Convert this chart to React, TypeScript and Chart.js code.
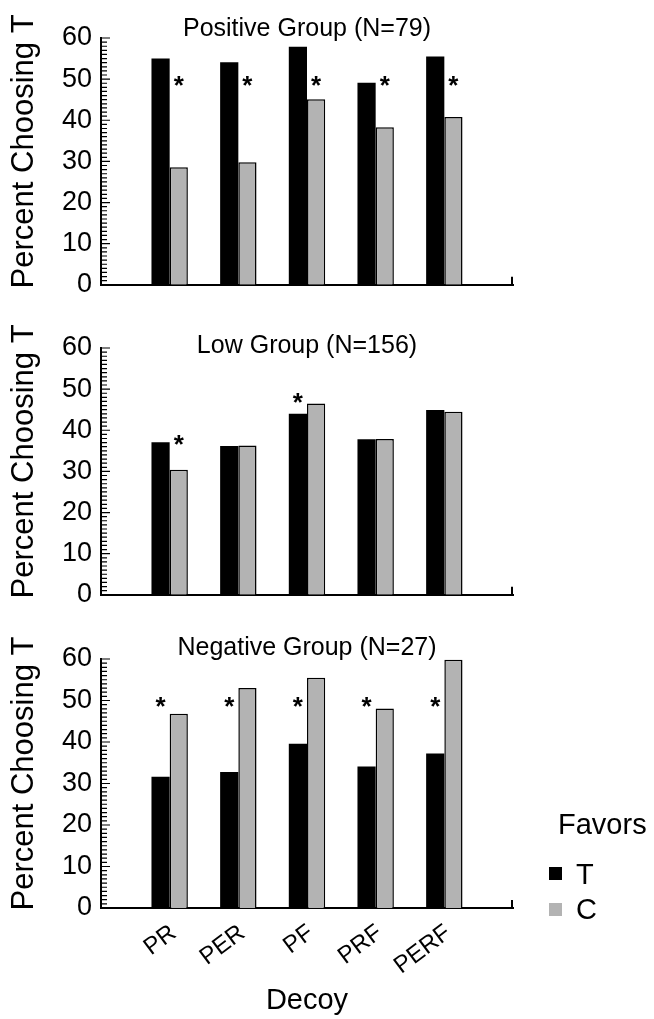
import React, { useEffect, useRef } from 'react';
import { Chart, registerables } from 'chart.js';

Chart.register(...registerables);

const FONT = '"Liberation Sans", Arial, Helvetica, sans-serif';

// ---- data ----
const categories = ['PR', 'PER', 'PF', 'PRF', 'PERF'];
const seriesNames = ['T', 'C'];
const seriesColors = ['#000000', '#b3b3b3'];

const positiveT = [55.0, 54.1, 57.9, 49.1, 55.5];
const positiveC = [28.6, 29.8, 45.1, 38.3, 40.8];
const lowT = [37.1, 36.2, 44.0, 37.8, 44.9];
const lowC = [30.4, 36.3, 46.5, 37.9, 44.5];
const negativeT = [31.6, 32.8, 39.6, 34.1, 37.2];
const negativeC = [46.8, 53.0, 55.5, 48.1, 59.8];

// significance markers: [category index, series index (0=T, 1=C), y value]
const positiveStars = [[0, 1, 50], [1, 1, 50], [2, 1, 50], [3, 1, 50], [4, 1, 50]];
const lowStars = [[0, 1, 38], [2, 0, 48.3]];
const negativeStars = [[0, 0, 50], [1, 0, 50], [2, 0, 50], [3, 0, 50], [4, 0, 50]];

const yTickValues = [0, 10, 20, 30, 40, 50, 60];
const yMinorStep = 1;
const panelTitles = ['Positive Group (N=79)', 'Low Group (N=156)', 'Negative Group (N=27)'];
const yAxisTitle = 'Percent Choosing T';
const xAxisTitle = 'Decoy';
const legendTitle = 'Favors';

type PanelProps = {
  t: number[];
  c: number[];
  stars: number[][];
  title: string;
  top: number;
  height: number;
  padTop: number;
  xHeight: number;
  titleY: number;
  showX: boolean;
  legend: boolean;
};

function makeOverlay(p: PanelProps) {
  return {
    id: 'overlay',
    afterDraw(chart: any) {
      const ctx: CanvasRenderingContext2D = chart.ctx;
      const area = chart.chartArea;
      const ys = chart.scales.y;
      const xs = chart.scales.x;
      ctx.save();
      ctx.setLineDash([]);
      ctx.globalAlpha = 1;
      ctx.strokeStyle = '#000';
      ctx.fillStyle = '#000';
      // minor / major ticks on the inside of the y axis
      const left = area.left;
      const steps = Math.round((ys.max - ys.min) / yMinorStep);
      ctx.lineWidth = 1.2;
      ctx.beginPath();
      for (let k = 0; k <= steps; k++) {
        const v = ys.min + k * yMinorStep;
        const py = ys.getPixelForValue(v);
        const len = k % 10 === 0 ? 9 : 6;
        ctx.moveTo(left - 1, py);
        ctx.lineTo(left + len, py);
      }
      ctx.stroke();
      // right end tick on x axis
      ctx.lineWidth = 2;
      const rx = xs.getPixelForValue(xs.max) - 1;
      ctx.beginPath();
      ctx.moveTo(rx, area.bottom);
      ctx.lineTo(rx, area.bottom - 8);
      ctx.stroke();

      // panel title
      ctx.font = `25px ${FONT}`;
      ctx.textAlign = 'center';
      ctx.textBaseline = 'middle';
      ctx.fillText(p.title, (area.left + area.right) / 2, p.titleY);

      // y axis title
      ctx.save();
      ctx.translate(24, (area.top + area.bottom) / 2 - 10);
      ctx.rotate(-Math.PI / 2);
      ctx.font = `31px ${FONT}`;
      ctx.textAlign = 'center';
      ctx.textBaseline = 'middle';
      ctx.fillText(yAxisTitle, 0, 0);
      ctx.restore();

      // stars
      ctx.font = `bold 26px ${FONT}`;
      ctx.textAlign = 'center';
      ctx.textBaseline = 'alphabetic';
      p.stars.forEach(([ci, si, val]) => {
        const el = chart.getDatasetMeta(si).data[ci];
        if (!el) return;
        const py = ys.getPixelForValue(val);
        ctx.fillText('*', el.x, py + 0.56 * 26);
      });

      // legend
      if (p.legend) {
        ctx.font = `29px ${FONT}`;
        ctx.textAlign = 'left';
        ctx.textBaseline = 'middle';
        ctx.fillText(legendTitle, 558, 206);
        const rows = [247, 283];
        const textY = [256, 291];
        chart.data.datasets.forEach((ds: any, i: number) => {
          ctx.fillStyle = ds.backgroundColor;
          ctx.fillRect(549, rows[i], 13, 13);
          ctx.fillStyle = '#000';
          ctx.fillText(ds.label, 576, textY[i]);
        });
      }
      ctx.restore();
    },
  };
}

function Panel(p: PanelProps) {
  const ref = useRef<HTMLCanvasElement | null>(null);
  useEffect(() => {
    if (!ref.current) return;
    const chart = new Chart(ref.current, {
      type: 'bar',
      data: {
        datasets: [p.t, p.c].map((arr, si) => ({
          label: seriesNames[si],
          data: arr.map((v, i) => ({ x: i + 1, y: v })),
          backgroundColor: seriesColors[si],
          borderColor: '#000',
          borderWidth: si === 0 ? 0 : 1.5,
          categoryPercentage: 0.53,
          barPercentage: 1,
        })),
      },
      options: {
        responsive: false,
        animation: false,
        events: [],
        layout: { padding: { top: p.padTop, right: 141, left: 0, bottom: 0 } },
        plugins: {
          legend: { display: false },
          tooltip: { enabled: false },
          title: { display: false },
        },
        scales: {
          x: {
            type: 'linear',
            min: 0,
            max: categories.length + 1,
            offset: false,
            grid: { display: false, drawTicks: false },
            border: { display: true, color: '#000', width: 2 },
            ticks: {
              display: p.showX,
              stepSize: 1,
              autoSkip: false,
              minRotation: 37,
              maxRotation: 37,
              padding: 11,
              labelOffset: 4,
              color: '#000',
              font: { family: FONT, size: 24 },
              callback: (v: any) => categories[Number(v) - 1] ?? '',
            },
            title: {
              display: p.showX,
              text: xAxisTitle,
              color: '#000',
              font: { family: FONT, size: 29 },
              padding: { top: 0, bottom: 1 },
            },
            afterFit: (s: any) => {
              s.height = p.xHeight;
            },
          },
          y: {
            min: yTickValues[0],
            max: yTickValues[yTickValues.length - 1],
            grid: { display: false, drawTicks: false },
            border: { display: true, color: '#000', width: 2 },
            afterBuildTicks: (s: any) => {
              s.ticks = yTickValues.map((v) => ({ value: v }));
            },
            ticks: {
              padding: 9,
              color: '#000',
              font: { family: FONT, size: 27 },
            },
            afterFit: (s: any) => {
              s.width = 101;
            },
          },
        },
      } as any,
      plugins: [makeOverlay(p)],
    });
    return () => chart.destroy();
  }, []);
  return (
    <div style={{ position: 'absolute', left: 0, top: p.top, width: 654, height: p.height }}>
      <canvas ref={ref} width={654} height={p.height} style={{ display: 'block' }} />
    </div>
  );
}

export default function App() {
  return (
    <div style={{ position: 'absolute', left: 0, top: 0, width: 654, height: 1019, background: '#fff' }}>
      <Panel t={positiveT} c={positiveC} stars={positiveStars} title={panelTitles[0]}
        top={0} height={310} padTop={38} xHeight={23} titleY={29} showX={false} legend={false} />
      <Panel t={lowT} c={lowC} stars={lowStars} title={panelTitles[1]}
        top={310} height={310} padTop={38} xHeight={23} titleY={36} showX={false} legend={false} />
      <Panel t={negativeT} c={negativeC} stars={negativeStars} title={panelTitles[2]}
        top={620} height={399} padTop={39} xHeight={111} titleY={28} showX={true} legend={true} />
    </div>
  );
}
